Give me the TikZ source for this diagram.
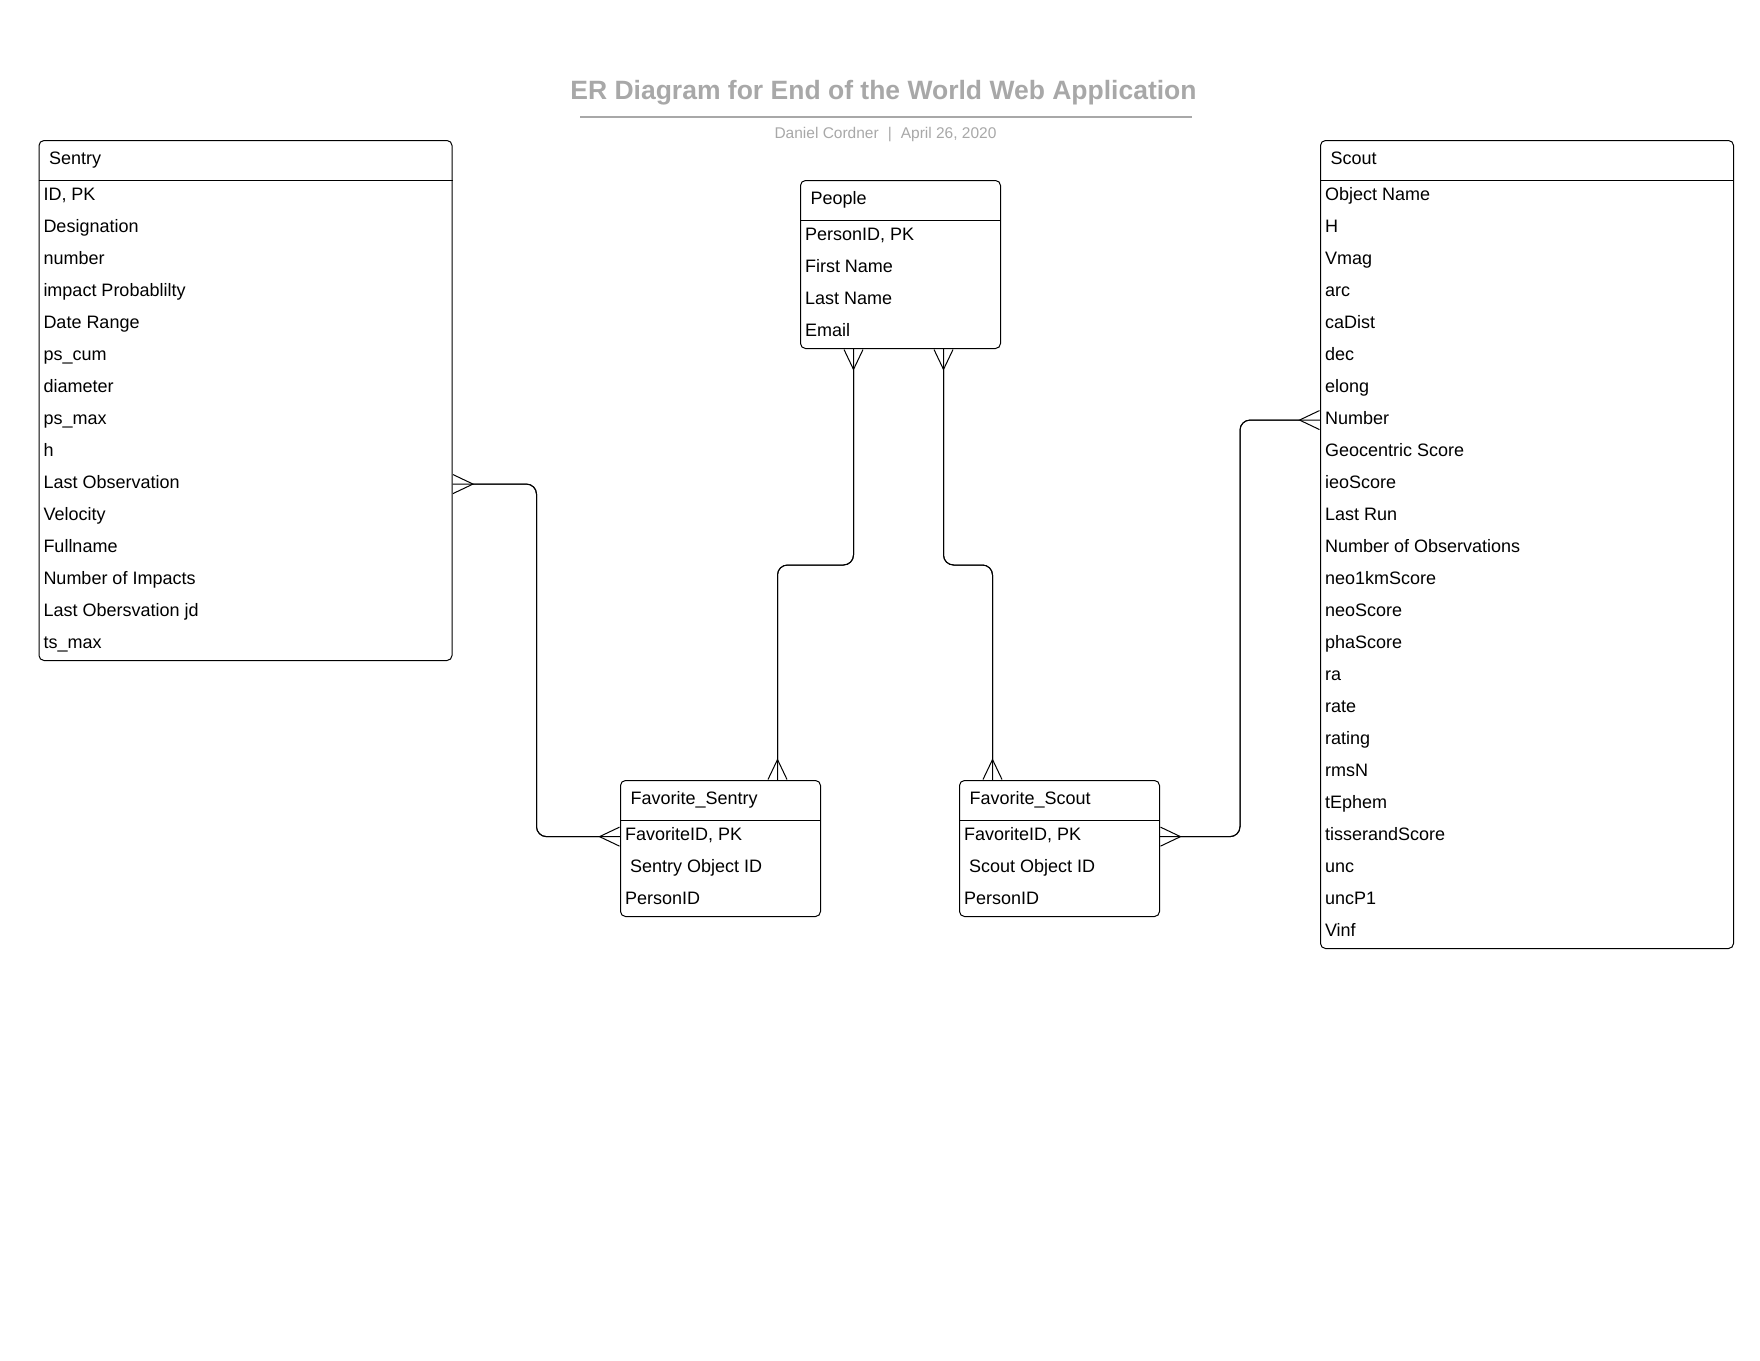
\documentclass[tikz,border=0pt]{standalone}
\usepackage{fontspec}
\setmainfont{Liberation Sans}
\usetikzlibrary{arrows.meta,positioning}
\definecolor{titlegray}{HTML}{A8A8A8}
\tikzset{crowfoot/.tip={Straight Barb[reversed, length=20pt, width=19pt]}}

\begin{document}
\begin{tikzpicture}[x=1pt, y=-1pt, line width=1pt, every node/.style={font=\fontsize{18}{20}\selectfont, inner sep=0pt}, tbl/.style={draw, rounded corners=5pt, anchor=north west}, fld/.style={anchor=base west}, rel/.style={rounded corners=10pt, crowfoot-crowfoot, preaction={draw, arrows=-}}]
\useasboundingbox (0,0) rectangle (1760,1360);
% title
\node[anchor=base, font=\fontsize{26.5}{30}\bfseries, text=titlegray] (title) at (883.5,99.3) {ER Diagram for End of the World Web Application};
\coordinate (rulel) at (580,116.7);
\coordinate (ruler) at (1192,116.7);
\draw[titlegray, line width=1.6pt] (rulel) -- (ruler);
\node[anchor=base, font=\fontsize{15.5}{18}\selectfont, text=titlegray] (byline) at (885.5,138.5) {Daniel Cordner\hspace{9pt}|\hspace{9pt}April 26, 2020};
% tables
\node[tbl, minimum width=413pt, minimum height=520pt] (sentry) at (38.5,140) {};
\node[tbl, minimum width=200pt, minimum height=168pt] (people) at (800,180) {};
\node[tbl, minimum width=413pt, minimum height=808pt] (scout) at (1320,140) {};
\node[tbl, minimum width=200pt, minimum height=136pt] (fsen) at (620,780) {};
\node[tbl, minimum width=200pt, minimum height=136pt, right=138pt of fsen] (fsct) {};
\foreach \t in {sentry,people,scout,fsen,fsct}
  \draw ([yshift=-40pt]\t.north west) -- ([yshift=-40pt]\t.north east);
\node[fld] (sentry-h) at ([xshift=10pt, yshift=-24pt]sentry.north west) {Sentry};
\node[fld] (people-h) at ([xshift=10pt, yshift=-24pt]people.north west) {People};
\node[fld] (scout-h) at ([xshift=10pt, yshift=-24pt]scout.north west) {Scout};
\node[fld] (fsen-h) at ([xshift=10pt, yshift=-24pt]fsen.north west) {Favorite\_Sentry};
\node[fld] (fsct-h) at ([xshift=10pt, yshift=-24pt]fsct.north west) {Favorite\_Scout};
% fields
\foreach \f [count=\i] in {{ID, PK}, Designation, number, impact Probablilty, Date Range, ps\_cum, diameter, ps\_max, h, Last Observation, Velocity, Fullname, Number of Impacts, Last Obersvation jd, ts\_max}
  \node[fld] (sentry-\i) at ([xshift=4.5pt, yshift={-28.5pt-32pt*\i}]sentry.north west) {\f};
\foreach \f [count=\i] in {{PersonID, PK}, First Name, Last Name, Email}
  \node[fld] (people-\i) at ([xshift=4.5pt, yshift={-28.5pt-32pt*\i}]people.north west) {\f};
\foreach \f [count=\i] in {Object Name, H, Vmag, arc, caDist, dec, elong, Number, Geocentric Score, ieoScore, Last Run, Number of Observations, neo1kmScore, neoScore, phaScore, ra, rate, rating, rmsN, tEphem, tisserandScore, unc, uncP1, Vinf}
  \node[fld] (scout-\i) at ([xshift=4.5pt, yshift={-28.5pt-32pt*\i}]scout.north west) {\f};
\foreach \f [count=\i] in {{FavoriteID, PK}, \ Sentry Object ID, PersonID}
  \node[fld] (fsen-\i) at ([xshift=4.5pt, yshift={-28.5pt-32pt*\i}]fsen.north west) {\f};
\foreach \f [count=\i] in {{FavoriteID, PK}, \ Scout Object ID, PersonID}
  \node[fld] (fsct-\i) at ([xshift=4.5pt, yshift={-28.5pt-32pt*\i}]fsct.north west) {\f};
% relations
\draw[rel] ([yshift=-2pt]sentry-10.west -| sentry.east) -- ++(84,0) |- ([yshift=-1.5pt]fsen-1.west -| fsen.west);
\draw[rel] ([xshift=-47pt]people.south) -- ++(0,216) -| ([xshift=57pt]fsen.north);
\draw[rel] ([xshift=43pt]people.south) -- ++(0,216) -| ([xshift=-67pt]fsct.north);
\draw[rel] ([yshift=-1.5pt]fsct-1.west -| fsct.east) -- ++(80,0) |- ([yshift=-2pt]scout-8.west -| scout.west);
\end{tikzpicture}
\end{document}
